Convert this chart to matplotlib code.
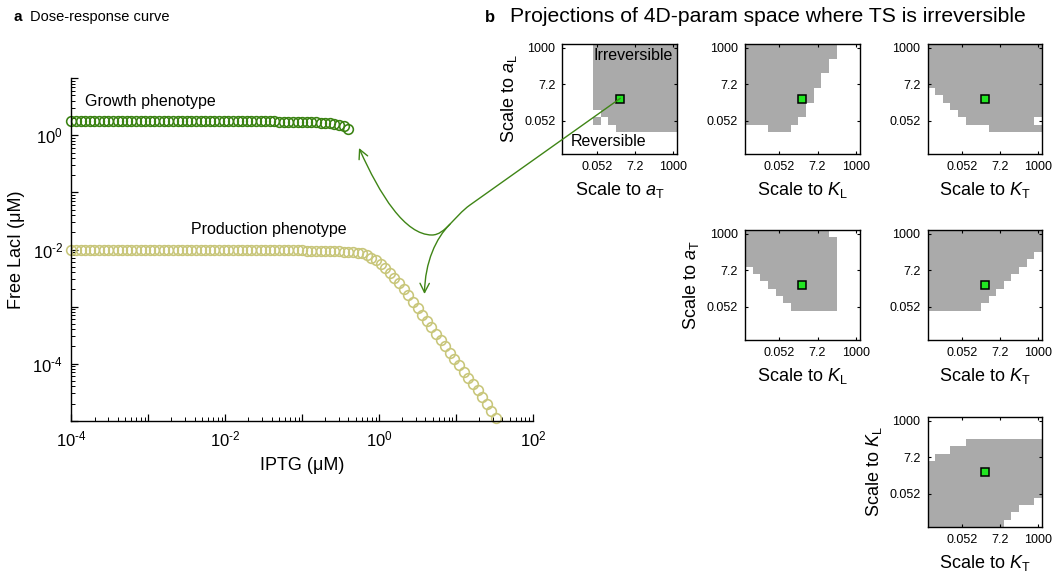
import numpy as np
import matplotlib
matplotlib.use("Agg")
import matplotlib.pyplot as plt
from matplotlib.colors import ListedColormap
from matplotlib.patches import FancyArrowPatch
from matplotlib.path import Path
from matplotlib.transforms import Affine2D
from matplotlib.ticker import (LogLocator, FuncFormatter, NullFormatter,
                               NullLocator, FixedLocator, FixedFormatter)

plt.rcParams.update({
    "font.family": ["Liberation Sans", "DejaVu Sans"],
    "mathtext.fontset": "custom",
    "mathtext.rm": "Liberation Sans",
    "mathtext.it": "Liberation Sans:italic",
    "mathtext.bf": "Liberation Sans:bold",
    "mathtext.default": "regular",
})

# ---------------- data ----------------
# IPTG sampling grid (log10 of concentration in uM)
log_iptg = [
    -4.00, -3.94, -3.88, -3.82, -3.76, -3.70, -3.64, -3.58, -3.52, -3.46,
    -3.40, -3.34, -3.28, -3.22, -3.16, -3.10, -3.04, -2.98, -2.92, -2.86,
    -2.80, -2.74, -2.68, -2.62, -2.56, -2.50, -2.44, -2.38, -2.32, -2.26,
    -2.20, -2.14, -2.08, -2.02, -1.96, -1.90, -1.84, -1.78, -1.72, -1.66,
    -1.60, -1.54, -1.48, -1.42, -1.36, -1.30, -1.24, -1.18, -1.12, -1.06,
    -1.00, -0.94, -0.88, -0.82, -0.76, -0.70, -0.64, -0.58, -0.52, -0.46,
    -0.40, -0.34, -0.28, -0.22, -0.16, -0.10, -0.04, 0.02, 0.08, 0.14,
    0.20, 0.26, 0.32, 0.38, 0.44, 0.50, 0.56, 0.62, 0.68, 0.74,
    0.80, 0.86, 0.92, 0.98, 1.04, 1.10, 1.16, 1.22, 1.28, 1.34,
    1.40, 1.46, 1.52,
]

# free LacI (uM) on the growth branch (ends at the fold)
growth_laci = [
    1.75, 1.75, 1.75, 1.75, 1.75, 1.75, 1.75, 1.75, 1.75, 1.75,
    1.75, 1.75, 1.75, 1.75, 1.75, 1.75, 1.75, 1.75, 1.75, 1.75,
    1.75, 1.75, 1.75, 1.75, 1.75, 1.75, 1.75, 1.75, 1.75, 1.75,
    1.75, 1.75, 1.75, 1.75, 1.75, 1.75, 1.75, 1.75, 1.75, 1.75,
    1.75, 1.75, 1.75, 1.75, 1.75, 1.74, 1.74, 1.73, 1.73, 1.72,
    1.72, 1.71, 1.70, 1.69, 1.68, 1.66, 1.63, 1.59, 1.53, 1.44,
    1.28,
]

# free LacI (uM) on the production branch
production_laci = [
    9.9e-3, 9.9e-3, 9.9e-3, 9.9e-3, 9.9e-3, 9.9e-3, 9.9e-3, 9.9e-3, 9.9e-3, 9.9e-3,
    9.9e-3, 9.9e-3, 9.9e-3, 9.9e-3, 9.9e-3, 9.9e-3, 9.9e-3, 9.9e-3, 9.9e-3, 9.9e-3,
    9.9e-3, 9.9e-3, 9.9e-3, 9.9e-3, 9.9e-3, 9.9e-3, 9.9e-3, 9.9e-3, 9.9e-3, 9.9e-3,
    9.9e-3, 9.9e-3, 9.9e-3, 9.9e-3, 9.9e-3, 9.9e-3, 9.9e-3, 9.9e-3, 9.9e-3, 9.9e-3,
    9.9e-3, 9.9e-3, 9.9e-3, 9.9e-3, 9.9e-3, 9.8e-3, 9.8e-3, 9.8e-3, 9.8e-3, 9.8e-3,
    9.8e-3, 9.6e-3, 9.6e-3, 9.6e-3, 9.6e-3, 9.6e-3, 9.5e-3, 9.4e-3, 9.3e-3, 9.2e-3,
    9.1e-3, 8.91e-3, 8.71e-3, 8.51e-3, 7.94e-3, 7.24e-3, 6.46e-3, 5.62e-3, 4.79e-3, 3.89e-3,
    3.16e-3, 2.57e-3, 2.04e-3, 1.58e-3, 1.20e-3, 9.33e-4, 7.24e-4, 5.62e-4, 4.37e-4, 3.31e-4,
    2.57e-4, 2.00e-4, 1.55e-4, 1.20e-4, 9.33e-5, 7.24e-5, 5.62e-5, 4.37e-5, 3.39e-5, 2.57e-5,
    1.95e-5, 1.48e-5, 1.12e-5,
]

# parameter scale factors sampled in each projection (15 x 15 grid)
scale_factors = [0.001, 0.00268, 0.0072, 0.0193, 0.0518, 0.139, 0.373, 1.0,
                 2.68, 7.2, 19.3, 51.8, 139.0, 373.0, 1000.0]
scale_ticks = [0.052, 7.2, 1000]
scale_tick_labels = ["0.052", "7.2", "1000"]
default_scale = 1.0

# irreversible (#) / reversible (.) cells, top row = largest y scale
region_aT_aL = [
    "....###########", "....###########", "....###########",
    "....###########", "....###########", "....###########",
    "....###########", "....###########", "....###########",
    ".....##########", "....#.#########", ".......########",
    "...............", "...............", "...............",
]
region_KL_aL = [
    "############...", "############...", "###########....",
    "###########....", "##########.....", "##########.....",
    "#########......", "#########......", "########.......",
    "########.......", "#######........", "...###.........",
    "...............", "...............", "...............",
]
region_KT_aL = [
    "###############", "###############", "###############",
    "###############", "###############", "###############",
    ".##############", "..#############", "...############",
    "....###########", ".....#########.", "........#######",
    "...............", "...............", "...............",
]
region_KL_aT = [
    "###########....", "############...", "############...",
    "############...", "############...", ".###########...",
    "..##########...", "...#########...", "....########...",
    ".....#######...", "......######...", "...............",
    "...............", "...............", "...............",
]
region_KT_aT = [
    "###############", "###############", "###############",
    "##############.", "#############..", "############...",
    "###########....", "##########.....", "#########......",
    "########.......", "#######........", "...............",
    "...............", "...............", "...............",
]
region_KT_KL = [
    "...............", "...............", "...............",
    ".....##########", "...############", ".##############",
    "###############", "###############", "###############",
    "###############", "###############", "##############.",
    "############...", "###########....", "##########.....",
]

GROWTH_C = "#3a8212"
PROD_C = "#c8c67a"
ARROW_C = "#3f8516"
GRAY = "#aaaaaa"
MARK_C = "#22e622"

W, H = 1053, 580
fig = plt.figure(figsize=(W / 100, H / 100), dpi=100)


def px_rect(x0, y0, x1, y1):
    return [x0 / W, 1 - y1 / H, (x1 - x0) / W, (y1 - y0) / H]


# ---------------- panel a ----------------
ax = fig.add_axes(px_rect(71.4, 78.3, 532.9, 420.7))
x_all = 10 ** np.array(log_iptg)
ax.plot(x_all[:len(growth_laci)], growth_laci, "o", ms=7.0, mfc="none",
        mec=GROWTH_C, mew=1.15, clip_on=False)
ax.plot(x_all[:len(production_laci)], production_laci, "o", ms=7.0,
        mfc="none", mec=PROD_C, mew=1.15, clip_on=False)
ax.set_xscale("log")
ax.set_yscale("log")
ax.set_xlim(1e-4, 1e2)
ax.set_ylim(1e-5, 1e1)
for s in ("top", "right"):
    ax.spines[s].set_visible(False)
for s in ("left", "bottom"):
    ax.spines[s].set_linewidth(1.0)


def even_pow(v, pos):
    e = int(round(np.log10(v)))
    if e % 2:
        return ""
    sign = "\u2010" if e < 0 else ""
    return r"$\mathregular{10^{%s%d}}$" % (sign, abs(e))


for axis in (ax.xaxis, ax.yaxis):
    axis.set_major_locator(LogLocator(base=10, numticks=20))
    axis.set_minor_locator(LogLocator(base=10, subs=np.arange(2, 10), numticks=20))
    axis.set_major_formatter(FuncFormatter(even_pow))
    axis.set_minor_formatter(NullFormatter())
ax.tick_params(which="major", direction="in", length=5, width=0.9,
               labelsize=12, pad=6)
ax.tick_params(which="minor", direction="in", length=2.8, width=0.7)
ax.set_xlabel("IPTG (\u03bcM)", fontsize=13, labelpad=6)
ax.set_ylabel("Free LacI (\u03bcM)", fontsize=13, labelpad=5)
ax.text(1.5e-4, 4.0, "Growth phenotype", fontsize=11.5, va="center", ha="left")
ax.text(3.6e-3, 0.0224, "Production phenotype", fontsize=11.5, va="center",
        ha="left")

fig.text(14 / W, 1 - 17 / H, "a", fontsize=11, fontweight="bold", va="center")
fig.text(30 / W, 1 - 17 / H, "Dose-response curve", fontsize=10.5, va="center")
fig.text(485 / W, 1 - 17 / H, "b", fontsize=12, fontweight="bold", va="center")
fig.text(510 / W, 1 - 17 / H,
         "Projections of 4D-param space where TS is irreversible",
         fontsize=15.2, va="center")

# ---------------- panel b ----------------
logs = np.log10(scale_factors)
half = (logs[1] - logs[0]) / 2
edges = 10 ** np.concatenate([[logs[0] - half], (logs[:-1] + logs[1:]) / 2,
                              [logs[-1] + half]])
cmap = ListedColormap(["white", GRAY])

col_x = [562.4, 745.0, 927.5]
row_y = [44.0, 230.0, 417.0]
pw, ph = 114.5, 110.0

labels = {
    "aT": r"Scale to $\mathit{a}_\mathrm{T}$",
    "aL": r"Scale to $\mathit{a}_\mathrm{L}$",
    "KL": r"Scale to $\mathit{K}_\mathrm{L}$",
    "KT": r"Scale to $\mathit{K}_\mathrm{T}$",
}

panels = [
    (0, 0, region_aT_aL, "aT", "aL", True),
    (0, 1, region_KL_aL, "KL", "aL", False),
    (0, 2, region_KT_aL, "KT", "aL", False),
    (1, 1, region_KL_aT, "KL", "aT", True),
    (1, 2, region_KT_aT, "KT", "aT", False),
    (2, 2, region_KT_KL, "KT", "KL", True),
]

small_axes = {}
for r, c, region, xk, yk, show_y in panels:
    x0, y0 = col_x[c], row_y[r]
    sa = fig.add_axes(px_rect(x0, y0, x0 + pw, y0 + ph))
    grid = np.array([[ch == "#" for ch in row] for row in region[::-1]],
                    dtype=float)
    sa.pcolormesh(edges, edges, grid, cmap=cmap, vmin=0, vmax=1,
                  shading="flat", linewidth=0, antialiased=False)
    sa.plot(default_scale, default_scale, "s", ms=5.5, mfc=MARK_C,
            mec="black", mew=1.1, zorder=5)
    sa.set_xscale("log")
    sa.set_yscale("log")
    sa.set_xlim(edges[0], edges[-1])
    sa.set_ylim(edges[0], edges[-1])
    for axis in (sa.xaxis, sa.yaxis):
        axis.set_major_locator(FixedLocator(scale_ticks))
        axis.set_major_formatter(FixedFormatter(scale_tick_labels))
        axis.set_minor_locator(NullLocator())
    sa.tick_params(direction="in", length=2.5, width=0.8, labelsize=9,
                   top=True, right=True, pad=5)
    for s in sa.spines.values():
        s.set_linewidth(1.0)
    sa.set_xlabel(labels[xk], fontsize=13, labelpad=5)
    if show_y:
        sa.set_ylabel(labels[yk], fontsize=13, labelpad=4)
    small_axes[(r, c)] = sa

a0 = small_axes[(0, 0)]
a0.text(0.965, 0.90, "Irreversible", transform=a0.transAxes, ha="right",
        va="center", fontsize=11.5)
a0.text(0.075, 0.115, "Reversible", transform=a0.transAxes, ha="left",
        va="center", fontsize=11.5)

# ---------------- connecting arrows ----------------
pix = Affine2D().scale(1 / W, -1 / H).translate(0, 1) + fig.transFigure

main_path = Path(
    [(620.3, 98.3), (470.0, 205.0),
     (454.0, 216.5), (445.0, 235.0), (432.0, 235.0),
     (405.0, 235.0), (380.0, 195.0), (359.0, 148.0)],
    [Path.MOVETO, Path.LINETO,
     Path.CURVE4, Path.CURVE4, Path.CURVE4,
     Path.CURVE4, Path.CURVE4, Path.CURVE4])
branch_path = Path(
    [(449.9, 224.3), (436.0, 238.0), (425.0, 262.0), (424.5, 294.0)],
    [Path.MOVETO, Path.CURVE4, Path.CURVE4, Path.CURVE4])

for p in (main_path, branch_path):
    arr = FancyArrowPatch(path=p, transform=pix,
                          arrowstyle="->,head_length=0.55,head_width=0.28",
                          mutation_scale=12, color=ARROW_C, lw=1.0,
                          zorder=10)
    fig.add_artist(arr)

fig.savefig("out.png", dpi=100)
